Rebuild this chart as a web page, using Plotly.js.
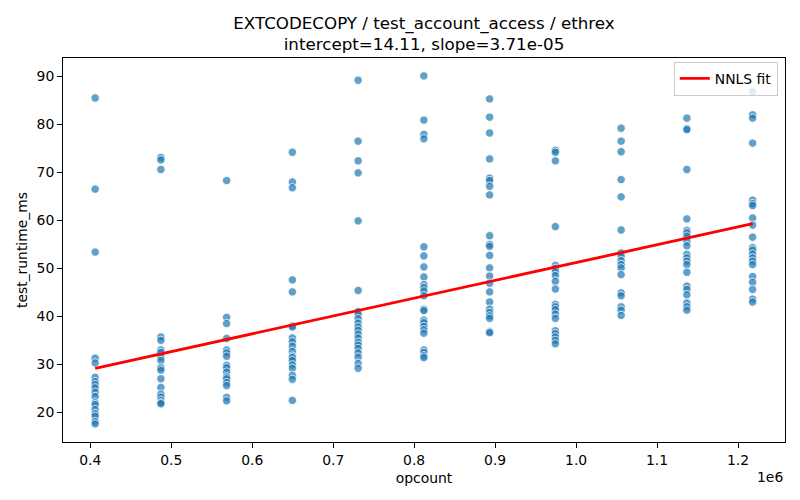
<!DOCTYPE html>
<html>
<head>
<meta charset="utf-8">
<script src="https://cdn.plot.ly/plotly-3.0.1.min.js"></script>
<style>
  html, body { margin: 0; padding: 0; background: white; }
  #graph { width: 800px; height: 500px; }
</style>
</head>
<body>
<div id="graph"></div>
<script>
// opcount of each measured column
var opcounts = [406000, 487200, 568400, 649600, 730800, 812000, 893200, 974400, 1055600, 1136800, 1218000];

// test_runtime_ms, one array per opcount column
var run0 = [85.5, 66.5, 53.4, 31.3, 30.3, 27.3, 26.4, 25.8, 25.1, 24.2, 23.3, 22.0, 21.6, 20.6, 19.7, 19.2, 18.1, 17.6];
var run1 = [73.1, 72.6, 70.6, 35.7, 35.0, 33.0, 32.5, 31.5, 30.8, 29.3, 28.8, 27.0, 25.2, 23.8, 23.2, 22.5, 22.0, 21.8];
var run2 = [68.3, 39.8, 38.5, 35.4, 33.0, 32.4, 31.7, 29.8, 29.3, 28.4, 27.4, 27.0, 26.2, 25.6, 23.1, 22.4];
var run3 = [74.2, 68.0, 66.8, 47.6, 45.1, 38.0, 37.8, 35.5, 34.7, 33.8, 32.7, 31.7, 31.4, 30.8, 29.9, 29.2, 27.7, 26.9, 22.5];
var run4 = [89.2, 76.5, 72.4, 69.9, 59.9, 45.4, 41.0, 40.4, 39.5, 38.6, 37.8, 37.1, 36.3, 35.5, 34.6, 34.0, 33.3, 32.4, 31.5, 30.2, 29.2];
var run5 = [90.1, 80.9, 77.9, 77.0, 54.5, 52.6, 50.3, 48.2, 46.6, 46.0, 45.3, 44.3, 41.5, 41.2, 39.2, 38.7, 37.9, 37.2, 36.5, 33.0, 32.5, 31.8, 31.4];
var run6 = [85.3, 81.5, 78.2, 72.8, 68.8, 68.3, 67.1, 65.3, 56.8, 55.0, 54.6, 52.7, 50.1, 48.4, 46.9, 45.1, 43.0, 41.5, 40.8, 40.1, 39.6, 36.8, 36.6];
var run7 = [74.6, 74.2, 72.4, 58.7, 50.6, 50.0, 49.3, 48.5, 47.3, 45.7, 42.5, 42.0, 41.4, 40.5, 39.6, 37.0, 36.4, 35.7, 35.0, 34.3];
var run8 = [79.2, 76.5, 74.3, 68.5, 64.9, 58.0, 53.2, 52.5, 51.6, 50.8, 50.1, 48.7, 44.9, 44.3, 42.0, 41.3, 40.2];
var run9 = [81.3, 79.1, 78.9, 70.6, 60.3, 57.9, 57.4, 56.7, 55.6, 54.7, 52.9, 52.2, 51.5, 50.8, 49.2, 46.3, 45.6, 44.5, 42.8, 42.0, 41.3];
var run10 = [86.8, 82.0, 81.3, 76.1, 64.2, 63.5, 63.1, 60.5, 59.0, 56.5, 54.3, 53.8, 53.0, 52.2, 51.5, 50.8, 48.3, 47.1, 45.6, 43.6, 43.0];

// NNLS fit line end points
var fitX = [406000, 1218000];
var fitY = [29.17, 59.30];

var xTickVals = [400000, 500000, 600000, 700000, 800000, 900000, 1000000, 1100000, 1200000];
var xTickText = ["0.4", "0.5", "0.6", "0.7", "0.8", "0.9", "1.0", "1.1", "1.2"];
var yTickVals = [20, 30, 40, 50, 60, 70, 80, 90];

var runs = [run0, run1, run2, run3, run4, run5, run6, run7, run8, run9, run10];
var px = [], py = [];
for (var i = 0; i < opcounts.length; i++) {
    for (var j = 0; j < runs[i].length; j++) {
        px.push(opcounts[i]);
        py.push(runs[i][j]);
    }
}

var font = 'DejaVu Sans, sans-serif';

var plot_data = [{
    type: 'scatter',
    mode: 'markers',
    x: px,
    y: py,
    showlegend: false,
    marker: {
        color: 'rgba(31,119,180,0.7)',
        size: 8.3,
        line: {color: 'white', width: 0.75}
    },
    hoverinfo: 'x+y'
}, {
    type: 'scatter',
    mode: 'lines',
    x: fitX,
    y: fitY,
    name: 'NNLS fit',
    line: {color: 'red', width: 2.8}
}];

var axisStyle = {
    showline: true,
    mirror: true,
    linecolor: 'black',
    linewidth: 1.1,
    showgrid: false,
    zeroline: false,
    ticks: 'outside',
    ticklen: 4.9,
    tickwidth: 1.1,
    tickcolor: 'black',
    tickfont: {family: font, size: 13.9, color: 'black'}
};

var layout = {
    width: 800,
    height: 500,
    paper_bgcolor: 'white',
    plot_bgcolor: 'white',
    font: {family: font, size: 13.9, color: 'black'},
    margin: {l: 63, r: 15, t: 58, b: 58},
    title: {
        text: 'EXTCODECOPY / test_account_access / ethrex<br>intercept=14.11, slope=3.71e-05',
        font: {family: font, size: 16.7, color: 'black'},
        x: 0.5,
        xref: 'paper',
        y: 0.943,
        yref: 'container',
        yanchor: 'top'
    },
    xaxis: Object.assign({}, axisStyle, {
        range: [366300, 1258000],
        tickvals: xTickVals,
        ticktext: xTickText,
        title: {text: 'opcount', font: {family: font, size: 13.9, color: 'black'}, standoff: 6}
    }),
    yaxis: Object.assign({}, axisStyle, {
        range: [13.83, 93.83],
        tickvals: yTickVals,
        title: {text: 'test_runtime_ms', font: {family: font, size: 13.9, color: 'black'}, standoff: 5}
    }),
    legend: {
        x: 0.99,
        xanchor: 'right',
        y: 0.99,
        yanchor: 'top',
        bgcolor: 'rgba(255,255,255,0.8)',
        bordercolor: '#cccccc',
        borderwidth: 1,
        font: {family: font, size: 13.9, color: 'black'}
    },
    annotations: [{
        text: '1e6',
        xref: 'paper',
        yref: 'paper',
        x: 1,
        xanchor: 'right',
        y: -0.066,
        yanchor: 'top',
        showarrow: false,
        font: {family: font, size: 13.9, color: 'black'}
    }]
};

Plotly.newPlot('graph', plot_data, layout, {displayModeBar: false});
</script>
</body>
</html>
